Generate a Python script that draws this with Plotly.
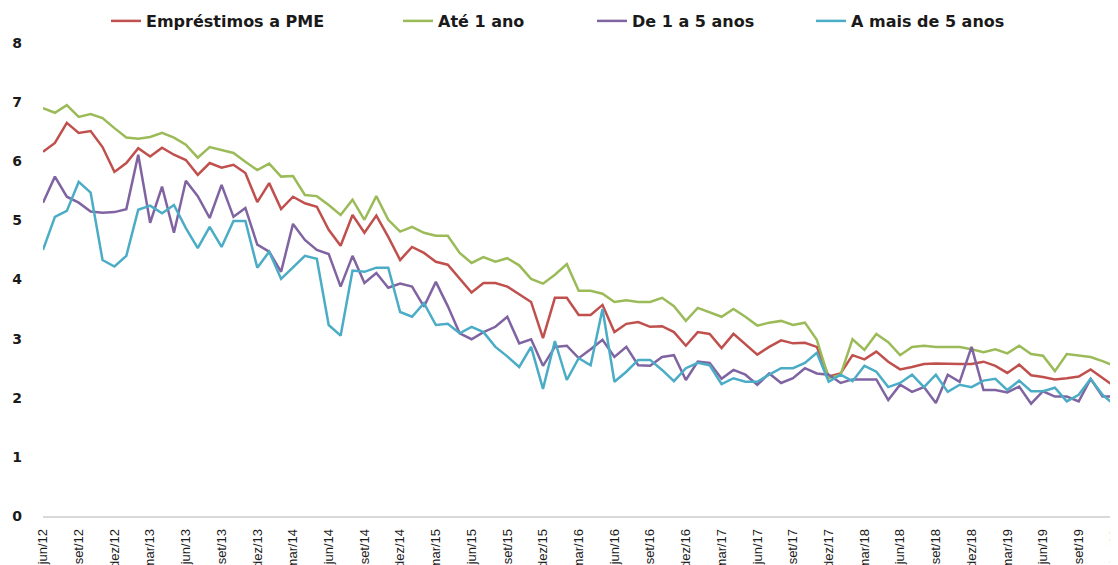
import plotly.graph_objects as go

# monthly, jun/12 .. dez/19
months = list(range(91))
tick_labels = [
    'jun/12', 'set/12', 'dez/12', 'mar/13', 'jun/13', 'set/13', 'dez/13',
    'mar/14', 'jun/14', 'set/14', 'dez/14', 'mar/15', 'jun/15', 'set/15',
    'dez/15', 'mar/16', 'jun/16', 'set/16', 'dez/16', 'mar/17', 'jun/17',
    'set/17', 'dez/17', 'mar/18', 'jun/18', 'set/18', 'dez/18', 'mar/19',
    'jun/19', 'set/19', 'dez/19',
]

pme = [
    6.16, 6.31, 6.65, 6.48, 6.51, 6.24, 5.82, 5.97, 6.22, 6.08, 6.23, 6.11, 6.02, 5.77, 5.97, 5.89, 5.94, 5.80, 5.31, 5.63, 5.19,
    5.40, 5.29, 5.23, 4.84, 4.57, 5.09, 4.79, 5.08, 4.72, 4.33, 4.55, 4.45, 4.30, 4.25, 4.01, 3.78, 3.94, 3.94, 3.88, 3.75,
    3.62, 3.01, 3.69, 3.69, 3.40, 3.40, 3.57, 3.11, 3.25, 3.28, 3.20, 3.21, 3.11, 2.88, 3.11, 3.08, 2.84, 3.08, 2.91, 2.73,
    2.86, 2.97, 2.92, 2.93, 2.86, 2.36, 2.41, 2.72, 2.65, 2.78, 2.61, 2.48, 2.52, 2.57, 2.58, 2.57, 2.57, 2.57, 2.61, 2.54,
    2.42, 2.56, 2.38, 2.35, 2.31, 2.33, 2.36, 2.48, 2.34, 2.19,
]
ate_1_ano = [
    6.90, 6.82, 6.95, 6.75, 6.80, 6.73, 6.56, 6.40, 6.38, 6.41, 6.48, 6.40, 6.28, 6.06, 6.24, 6.19, 6.14, 5.99, 5.85, 5.96, 5.74,
    5.75, 5.43, 5.41, 5.26, 5.09, 5.35, 5.01, 5.41, 5.01, 4.81, 4.89, 4.79, 4.74, 4.74, 4.45, 4.28, 4.38, 4.30, 4.36, 4.24,
    4.01, 3.93, 4.08, 4.26, 3.81, 3.81, 3.76, 3.62, 3.65, 3.62, 3.62, 3.69, 3.55, 3.30, 3.52, 3.45, 3.37, 3.50, 3.37, 3.22,
    3.27, 3.30, 3.23, 3.27, 2.98, 2.33, 2.39, 2.99, 2.81, 3.08, 2.94, 2.72, 2.86, 2.88, 2.86, 2.86, 2.86, 2.82, 2.77, 2.82,
    2.75, 2.88, 2.74, 2.71, 2.45, 2.74, 2.71, 2.69, 2.62, 2.54,
]
de_1_a_5 = [
    5.30, 5.74, 5.40, 5.30, 5.15, 5.13, 5.14, 5.19, 6.11, 4.96, 5.57, 4.79, 5.67, 5.41, 5.04, 5.60, 5.06, 5.21, 4.59, 4.47, 4.13,
    4.94, 4.67, 4.50, 4.43, 3.88, 4.40, 3.94, 4.11, 3.86, 3.93, 3.88, 3.54, 3.96, 3.55, 3.09, 2.99, 3.11, 3.20, 3.37, 2.92,
    2.99, 2.54, 2.86, 2.88, 2.67, 2.82, 2.98, 2.69, 2.86, 2.55, 2.54, 2.69, 2.72, 2.30, 2.61, 2.59, 2.32, 2.47, 2.39, 2.22,
    2.41, 2.25, 2.33, 2.50, 2.41, 2.39, 2.25, 2.31, 2.31, 2.31, 1.96, 2.22, 2.10, 2.18, 1.91, 2.39, 2.27, 2.86, 2.13, 2.13,
    2.09, 2.19, 1.90, 2.11, 2.02, 2.02, 1.94, 2.32, 2.02, 2.02,
]
mais_5_anos = [
    4.50, 5.06, 5.16, 5.65, 5.47, 4.33, 4.22, 4.40, 5.18, 5.25, 5.12, 5.26, 4.87, 4.53, 4.89, 4.55, 4.99, 4.99, 4.20, 4.47, 4.01,
    4.20, 4.40, 4.35, 3.23, 3.05, 4.15, 4.13, 4.20, 4.20, 3.45, 3.37, 3.60, 3.23, 3.25, 3.09, 3.20, 3.11, 2.86, 2.70, 2.52,
    2.86, 2.15, 2.96, 2.30, 2.67, 2.55, 3.50, 2.27, 2.44, 2.64, 2.64, 2.47, 2.28, 2.50, 2.59, 2.55, 2.23, 2.33, 2.27, 2.27,
    2.39, 2.50, 2.50, 2.59, 2.76, 2.27, 2.39, 2.28, 2.54, 2.44, 2.18, 2.25, 2.39, 2.18, 2.39, 2.10, 2.22, 2.18, 2.29, 2.32,
    2.13, 2.29, 2.11, 2.11, 2.17, 1.94, 2.05, 2.32, 2.05, 1.88,
]

# the page body adds an 8px offset, margins are set against that
W, H = 1118, 565
L, R, T, B = 35, 8, 35, 57

# name, values, colour, legend id, screen x where the legend line starts
series = [
    ('Empréstimos a PME', pme, '#C0504D', 'legend', 113),
    ('Até 1 ano', ate_1_ano, '#9BBB59', 'legend2', 405),
    ('De 1 a 5 anos', de_1_a_5, '#8064A2', 'legend3', 599),
    ('A mais de 5 anos', mais_5_anos, '#4BACC6', 'legend4', 818),
]

fig = go.Figure()
legends = {}
for name, values, colour, leg, px in series:
    fig.add_trace(go.Scatter(
        x=months, y=values, name='<b>' + name + '</b>', mode='lines',
        line=dict(color=colour, width=2.5),
        legend=leg,
    ))
    # container refs so the legends do not push the top margin
    legends[leg] = dict(
        xref='container', x=(px - 15) / W, xanchor='left',
        yref='container', y=1 - 13 / H, yanchor='middle',
        orientation='h', bgcolor='rgba(0,0,0,0)',
        font=dict(family='DejaVu Sans', size=16, color='#1a1a1a'),
    )

fig.update_layout(**legends)

fig.update_layout(
    width=W, height=H,
    margin=dict(l=L, r=R, t=T, b=B),
    paper_bgcolor='white',
    plot_bgcolor='white',
    showlegend=True,
    xaxis=dict(
        range=[0, 90.3],
        tickmode='array',
        tickvals=months[::3],
        ticktext=tick_labels,
        tickangle=-90,
        tickfont=dict(family='Liberation Sans Narrow, Liberation Sans, sans-serif', size=13, color='#1a1a1a'),
        showgrid=False,
        zeroline=False,
        showline=True,
        linecolor='#d9d9d9',
        linewidth=1.5,
        ticks='',
        ticklabelstandoff=6,
        automargin=False,
    ),
    yaxis=dict(
        range=[0, 8],
        dtick=1,
        tickfont=dict(family='DejaVu Sans', size=14, color='#1a1a1a', weight='bold'),
        showgrid=False,
        zeroline=False,
        showline=False,
        ticks='',
        ticklabelstandoff=20,
        automargin=False,
    ),
)

fig.write_html('out.html')
